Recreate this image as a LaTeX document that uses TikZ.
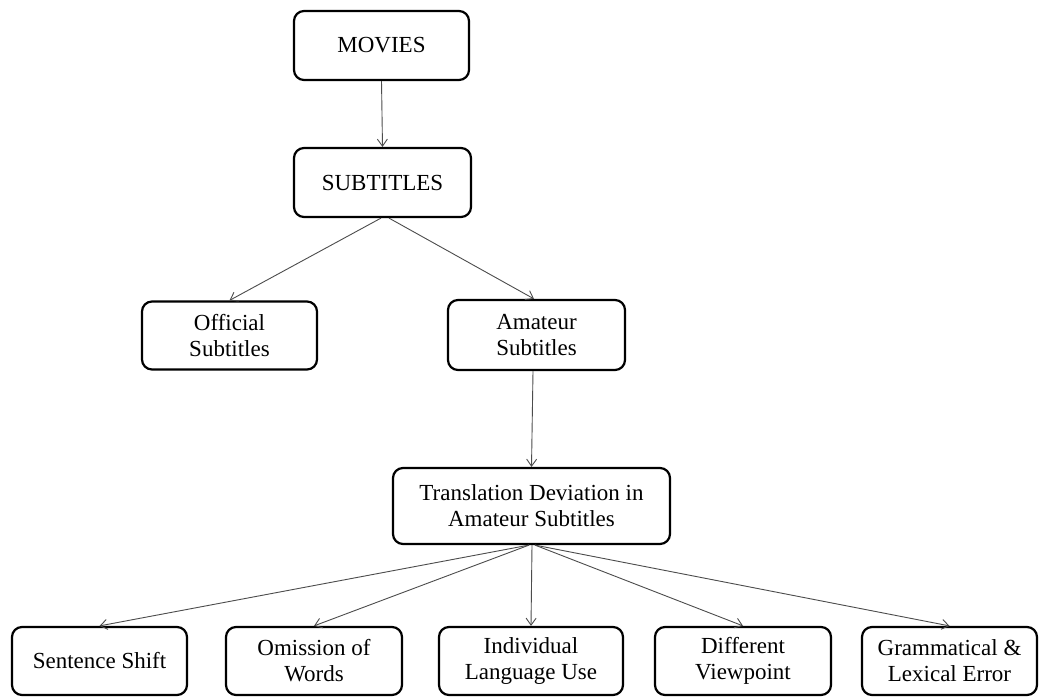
\documentclass[tikz,border=0pt]{standalone}
\usepackage{fontspec}
\setmainfont{Liberation Serif}
\usetikzlibrary{arrows.meta}
\begin{document}
\begin{tikzpicture}[x=1pt,y=-1pt,
  box/.style={draw=black, line width=2.2pt, rounded corners=10pt, fill=white,
    align=center, inner sep=0pt, font=\fontsize{23}{26}\selectfont},
  link/.style={draw=black!70, line width=0.9pt, -{Straight Barb[length=7pt,width=10pt]}}]
\fill[white] (0,0) rectangle (1040,696);
\useasboundingbox (0,0) rectangle (1040,696);
\node[box, minimum width=175pt, minimum height=69pt] (movies) at (381.5,45.5) {MOVIES};
\node[box, minimum width=177pt, minimum height=69pt] (sub) at (382.5,182.5) {SUBTITLES};
\node[box, minimum width=175pt, minimum height=68pt] (off) at (229.5,335.5) {Official\\Subtitles};
\node[box, minimum width=177pt, minimum height=70pt] (ama) at (536.5,335) {Amateur\\Subtitles};
\node[box, minimum width=277pt, minimum height=76pt] (trans) at (531.5,506) {Translation Deviation in\\Amateur Subtitles};
\node[box, minimum width=175pt, minimum height=68pt] (ss) at (99.5,661) {Sentence Shift};
\node[box, minimum width=176pt, minimum height=68pt] (ow) at (314,661) {Omission of\\Words};
\node[box, minimum width=184pt, minimum height=68pt] (il) at (531,661) {Individual\\Language Use};
\node[box, minimum width=176pt, minimum height=68pt] (dv) at (743,661) {Different\\Viewpoint};
\node[box, minimum width=175pt, minimum height=68pt] (gl) at (949.5,661) {Grammatical \&\\Lexical Error};
\draw[link] (movies.south) -- (sub.north);
\draw[link] ([xshift=-1.5pt]sub.south) -- (off.north);
\draw[link] ([xshift=6.5pt]sub.south) -- ([xshift=-2.5pt]ama.north);
\draw[link] ([xshift=-3.5pt]ama.south) -- (trans.north);
\draw[link] ([xshift=-2.5pt]trans.south) -- (ss.north);
\draw[link] ([xshift=-2.5pt]trans.south) -- (ow.north);
\draw[link] ([xshift=0.5pt]trans.south) -- (il.north);
\draw[link] ([xshift=3.5pt]trans.south) -- (dv.north);
\draw[link] ([xshift=3.5pt]trans.south) -- (gl.north);
\end{tikzpicture}
\end{document}
